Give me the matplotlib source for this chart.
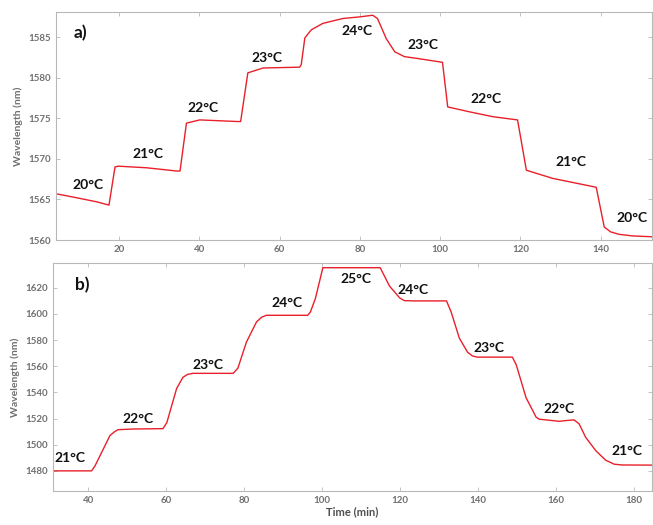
import matplotlib
matplotlib.use("Agg")
import matplotlib.pyplot as plt

# ---- Panel a) data ----
time_a = [4.3, 9.5, 14.5, 17.5, 19.0, 19.8, 26.9, 34.4, 35.2, 36.8, 40.1, 49.6, 50.3,
          52.1, 55.9, 65.0, 65.4, 66.3, 67.9, 70.8, 75.8, 80.0, 83.2, 84.4, 86.6, 88.7,
          91.1, 94.0, 100.6, 101.9, 107.3, 113.1, 119.3, 121.5, 128.0, 138.9, 140.9,
          142.5, 144.6, 148.0, 152.8]
wl_a = [1565.7, 1565.2, 1564.7, 1564.3, 1569.0, 1569.1, 1568.9, 1568.5, 1568.5, 1574.4,
        1574.8, 1574.6, 1574.6, 1580.6, 1581.2, 1581.3, 1581.6, 1584.9, 1585.9, 1586.7,
        1587.3, 1587.5, 1587.7, 1587.3, 1584.8, 1583.2, 1582.6, 1582.4, 1581.9, 1576.4,
        1575.8, 1575.2, 1574.8, 1568.6, 1567.6, 1566.5, 1561.6, 1561.0, 1560.7, 1560.5,
        1560.4]
labels_a = ["20°C", "21°C", "22°C", "23°C", "24°C", "23°C", "22°C", "21°C", "20°C"]
label_x_a = [12.3, 27.2, 41.0, 56.8, 79.2, 95.7, 111.5, 132.7, 147.9]
label_y_a = [1566.8, 1570.6, 1576.3, 1582.4, 1585.7, 1584.0, 1577.4, 1569.6, 1562.7]
xticks_a = [20, 40, 60, 80, 100, 120, 140]
yticks_a = [1560, 1565, 1570, 1575, 1580, 1585]

# ---- Panel b) data ----
time_b = [31.1, 40.9, 41.8, 45.6, 46.8, 47.7, 51.5, 59.2, 60.2, 62.7, 64.3, 65.5, 66.9,
          77.2, 78.4, 80.6, 83.2, 84.5, 85.7, 96.3, 97.0, 98.3, 100.2, 114.9, 117.3,
          119.9, 121.1, 124.1, 131.9, 133.1, 135.2, 137.3, 138.5, 139.8, 148.8, 149.8,
          152.3, 154.9, 155.7, 157.4, 160.8, 163.0, 164.6, 165.9, 167.6, 170.2, 172.7,
          174.9, 177.0, 184.6]
wl_b = [1480, 1480, 1484, 1507, 1510, 1511.5, 1512, 1512.3, 1517, 1543, 1551.5, 1553.8,
        1554.6, 1554.6, 1558.5, 1578.5, 1594, 1597.5, 1599, 1599, 1601.5, 1612, 1635.4,
        1635.4, 1621.3, 1612.3, 1610.2, 1610, 1610, 1601.5, 1581.5, 1570.8, 1568.0,
        1567, 1567, 1561, 1536, 1521, 1519.5, 1519, 1517.9, 1518.6, 1519, 1516, 1505.6,
        1495.4, 1488.2, 1485.1, 1484.5, 1484.4]
labels_b = ["21°C", "22°C", "23°C", "24°C", "25°C", "24°C", "23°C", "22°C", "21°C"]
label_x_b = [35.4, 52.9, 70.7, 90.9, 108.8, 123.2, 142.9, 160.8, 178.2]
label_y_b = [1490, 1520, 1560.8, 1608.5, 1627, 1618.5, 1574, 1527.7, 1495.5]
xticks_b = [40, 60, 80, 100, 120, 140, 160, 180]
yticks_b = [1480, 1500, 1520, 1540, 1560, 1580, 1600, 1620]

W, H = 653, 525
fig = plt.figure(figsize=(W / 100, H / 100), dpi=100)

def px_axes(l, t, r, b):
    return fig.add_axes([l / W, 1 - b / H, (r - l) / W, (b - t) / H])

ax_a = px_axes(56, 12, 652, 240)
ax_b = px_axes(53, 263, 652, 491)

line_color = "#e8202a"
spine_color = "#b8b8b8"
tick_color = "#707070"
font = ["Lato", "DejaVu Sans"]

def style(ax):
    for s in ax.spines.values():
        s.set_color(spine_color)
        s.set_linewidth(0.8)
    ax.tick_params(direction="in", length=3, width=0.6, color=spine_color,
                   top=True, right=True, labelsize=7, labelcolor=tick_color)
    for lab in ax.get_xticklabels() + ax.get_yticklabels():
        lab.set_fontweight("bold")
        lab.set_family(font)

# panel a
ax_a.plot(time_a, wl_a, color=line_color, lw=1.0)
ax_a.set_xlim(4.3, 152.8)
ax_a.set_ylim(1560, 1588.1)
ax_a.set_xticks(xticks_a)
ax_a.set_yticks(yticks_a)
for t, x, y in zip(labels_a, label_x_a, label_y_a):
    ax_a.text(x, y, t, ha="center", va="center", fontsize=10, fontweight="bold",
              family=font, color="#111111")
ax_a.text(10.3, 1585.5, "a)", ha="center", va="center", fontsize=12.5,
          fontweight="bold", family=font, color="#111111")
ax_a.set_ylabel("Wavelength (nm)", fontsize=7.5, fontweight="bold",
                color=tick_color, family=font, labelpad=4)
style(ax_a)

# panel b
ax_b.plot(time_b, wl_b, color=line_color, lw=1.0)
ax_b.set_xlim(31.0, 184.6)
ax_b.set_ylim(1464.6, 1639)
ax_b.set_xticks(xticks_b)
ax_b.set_yticks(yticks_b)
for t, x, y in zip(labels_b, label_x_b, label_y_b):
    ax_b.text(x, y, t, ha="center", va="center", fontsize=10, fontweight="bold",
              family=font, color="#111111")
ax_b.text(38.4, 1622, "b)", ha="center", va="center", fontsize=12.5,
          fontweight="bold", family=font, color="#111111")
ax_b.set_ylabel("Wavelength (nm)", fontsize=7.5, fontweight="bold",
                color=tick_color, family=font, labelpad=4)
ax_b.set_xlabel("Time (min)", fontsize=8, fontweight="bold",
                color="#505050", family=font, labelpad=1)
style(ax_b)

fig.savefig("out.png", dpi=100)
